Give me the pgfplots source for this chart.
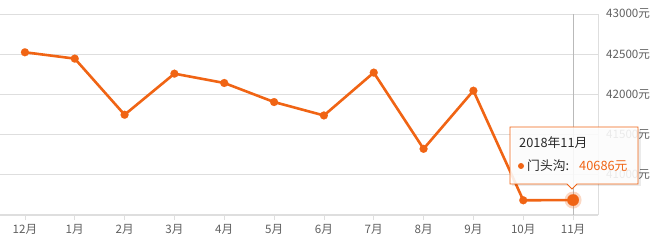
\documentclass[border=0pt]{standalone}
\usepackage{pgfplots}
\pgfplotsset{compat=1.18}
\usepackage{fontspec}
\setmainfont{Noto Sans CJK SC}
\definecolor{lj}{RGB}{240,100,20}
\definecolor{gridc}{RGB}{222,222,222}
\definecolor{labc}{RGB}{95,95,95}
\definecolor{darkt}{RGB}{40,40,40}
\begin{document}
\fontsize{11bp}{13bp}\selectfont
\begin{tikzpicture}
\useasboundingbox (0,-28bp) rectangle (659bp,215bp);
\begin{axis}[
  at={(0,0)}, anchor=south west,
  scale only axis, width=598bp, height=201bp,
  xmin=-0.5, xmax=11.5, ymin=40500, ymax=43000,
  scaled y ticks=false,
  axis x line*=bottom, axis y line*=right,
  x axis line style={draw=gridc, line width=1.6bp, -},
  y axis line style={draw=gridc, line width=1bp, -},
  xtick={0,...,11},
  xticklabels={12月,1月,2月,3月,4月,5月,6月,7月,8月,9月,10月,11月},
  ytick={41000,41500,42000,42500,43000},
  yticklabels={41000元,41500元,42000元,42500元,43000元},
  ymajorgrids, grid style={draw=gridc, line width=0.8bp},
  ytick style={draw=none},
  xtick style={draw=gridc, line width=0.8bp},
  xtick align=outside, major tick length=5bp,
  tick label style={font=\fontsize{11.6bp}{13bp}\selectfont, text=labc},
  yticklabel style={anchor=west, inner sep=0pt, xshift=8bp},
  xticklabel style={inner sep=0pt, yshift=-4bp},
  clip=false,
]
\draw[draw=gray!55, line width=0.8bp] (axis cs:11,40500) -- (axis cs:11,43000);
\addplot[color=lj, line width=2.6bp, mark=*, mark size=4bp, mark options={fill=lj, draw=lj, line width=0.1bp}]
coordinates {
(0,42524) (1,42445) (2,41747) (3,42258) (4,42142) (5,41905)
(6,41738) (7,42271) (8,41323) (9,42046) (10,40683) (11,40686)
};
\addplot[color=lj, only marks, mark=*, mark size=8.5bp, mark options={fill=lj, fill opacity=0.25, draw opacity=0, line width=0.1bp}]
coordinates {(11,40686)};
\addplot[color=lj, only marks, mark=*, mark size=5.8bp, mark options={fill=lj, draw=lj, line width=0.1bp}]
coordinates {(11,40686)};
\end{axis}
% tooltip
\fill[black, opacity=0.08] (512bp,29bp) rectangle (641bp,86bp);
\draw[draw=lj, line width=0.9bp, fill=white, fill opacity=0.88]
  (510bp,88bp) -- (638bp,88bp) -- (638bp,31bp) -- (577bp,31bp) -- (572bp,26bp) -- (567bp,31bp) -- (510bp,31bp) -- cycle;
\node[anchor=west, inner sep=0pt, text=darkt, font=\fontsize{12.8bp}{14bp}\selectfont] at (519bp,72bp) {2018年11月};
\fill[lj] (521bp,49bp) circle (3bp);
\node[anchor=west, inner sep=0pt, text=darkt, font=\fontsize{12.8bp}{14bp}\selectfont] at (527bp,49bp) {门头沟:};
\node[anchor=west, inner sep=0pt, text=lj, font=\fontsize{12.8bp}{14bp}\selectfont] at (579bp,49bp) {40686元};
\end{tikzpicture}
\end{document}
